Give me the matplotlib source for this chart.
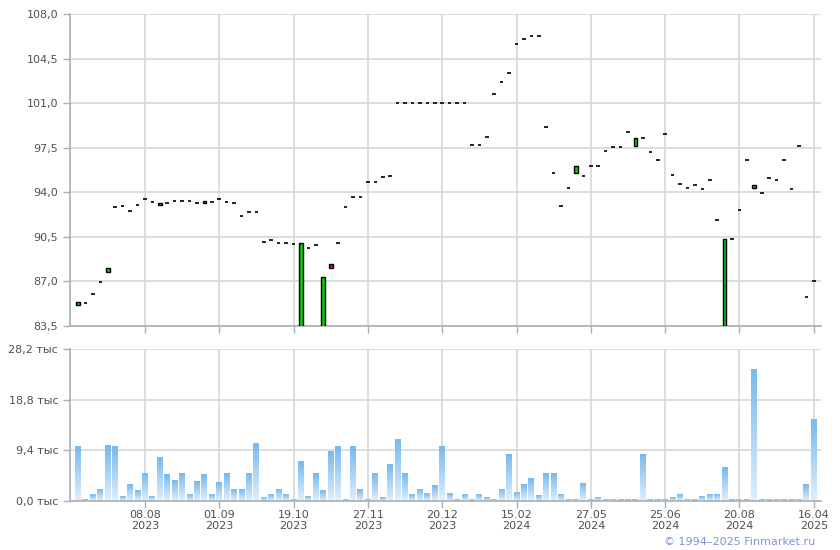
import matplotlib
matplotlib.use("Agg")
import matplotlib.pyplot as plt
import numpy as np

# daily open / close prices (open below 83.5 -> bar runs off the bottom)
opens = [
    85.17, 85.27, 86.05, 86.99, 87.77, 92.83, 92.91, 92.52, 92.99, 93.45,
    93.22, 92.99, 93.14, 93.30, 93.30, 93.30, 93.14, 93.12, 93.22, 93.45,
    93.22, 93.14, 92.13, 92.44, 92.44, 90.10, 90.26, 90.03, 90.03, 89.95,
    80.00, 89.64, 89.87, 80.00, 88.39, 90.03, 92.83, 93.61, 93.61, 94.78,
    94.78, 95.17, 95.25, 101.0, 101.0, 101.0, 101.0, 101.0, 101.0, 101.0,
    101.0, 101.0, 101.0, 97.70, 97.70, 98.33, 101.71, 102.65, 103.36, 105.63,
    106.03, 106.26, 106.26, 99.12, 95.50, 92.91, 94.32, 95.48, 95.27, 96.05,
    96.05, 97.23, 97.54, 97.54, 98.72, 97.66, 98.28, 97.19, 96.56, 98.60,
    95.39, 94.68, 94.37, 94.60, 94.29, 95.00, 91.86, 80.00, 90.37, 92.64,
    96.56, 94.34, 93.98, 95.15, 95.00, 96.56, 94.29, 97.66, 85.75, 87.00,
]
closes = [
    85.38, 85.27, 86.05, 86.99, 88.08, 92.83, 92.91, 92.52, 92.99, 93.45,
    93.22, 93.14, 93.14, 93.30, 93.30, 93.30, 93.14, 93.30, 93.22, 93.45,
    93.22, 93.14, 92.13, 92.44, 92.44, 90.10, 90.26, 90.03, 90.03, 89.95,
    90.03, 89.64, 89.87, 87.38, 88.08, 90.03, 92.83, 93.61, 93.61, 94.78,
    94.78, 95.17, 95.25, 101.0, 101.0, 101.0, 101.0, 101.0, 101.0, 101.0,
    101.0, 101.0, 101.0, 97.70, 97.70, 98.33, 101.71, 102.65, 103.36, 105.63,
    106.03, 106.26, 106.26, 99.12, 95.50, 92.91, 94.32, 96.05, 95.27, 96.05,
    96.05, 97.23, 97.54, 97.54, 98.72, 98.28, 98.28, 97.19, 96.56, 98.60,
    95.39, 94.68, 94.37, 94.60, 94.29, 95.00, 91.86, 90.37, 90.37, 92.64,
    96.56, 94.60, 93.98, 95.15, 95.00, 96.56, 94.29, 97.66, 85.75, 87.00,
]
# volume, thousands
volumes = [
    10.08, 0.37, 1.12, 2.05, 10.27, 10.08, 0.75, 2.99, 1.87, 5.04,
    0.75, 8.03, 4.86, 3.74, 5.04, 1.12, 3.55, 4.86, 1.12, 3.36,
    5.04, 2.05, 2.05, 5.04, 10.65, 0.56, 1.12, 2.05, 1.12, 0.19,
    7.28, 0.75, 5.04, 1.87, 9.15, 10.08, 0.19, 10.08, 2.05, 0.19,
    5.04, 0.56, 6.72, 11.39, 5.04, 1.12, 2.05, 1.31, 2.80, 10.08,
    1.31, 0.37, 1.12, 0.19, 1.12, 0.56, 0.19, 2.05, 8.59, 1.49,
    2.99, 4.11, 0.93, 5.04, 5.04, 1.12, 0.19, 0.19, 3.17, 0.19,
    0.56, 0.19, 0.19, 0.19, 0.19, 0.19, 8.59, 0.19, 0.19, 0.19,
    0.56, 1.12, 0.19, 0.19, 0.75, 1.12, 1.12, 6.16, 0.19, 0.19,
    0.19, 24.46, 0.19, 0.19, 0.37, 0.19, 0.37, 0.19, 2.99, 15.13,
]
tick_idx = [9, 19, 29, 39, 49, 59, 69, 79, 89, 99]
tick_labels = [
    "08.08\n2023", "01.09\n2023", "19.10\n2023", "27.11\n2023", "20.12\n2023",
    "15.02\n2024", "27.05\n2024", "25.06\n2024", "20.08\n2024", "16.04\n2025",
]
price_ticks = [83.5, 87.0, 90.5, 94.0, 97.5, 101.0, 104.5, 108.0]
vol_ticks = [0.0, 9.4, 18.8, 28.2]

GRID = "#d3d8dc"
AXIS = "#a8afb6"
TEXT = "#505050"

fig = plt.figure(figsize=(8.4, 5.5), dpi=100)
ax1 = fig.add_axes([70 / 840, 1 - 326 / 550, 751 / 840, 312 / 550])
ax2 = fig.add_axes([70 / 840, 1 - 501 / 550, 751 / 840, 152 / 550])

x = np.arange(len(opens))
xlim = (-1.08, 99.97)

for ax in (ax1, ax2):
    ax.set_xlim(*xlim)
    ax.set_xticks(tick_idx)
    for s in ("top", "right"):
        ax.spines[s].set_visible(False)
    for s in ("left", "bottom"):
        ax.spines[s].set_color(AXIS)
        ax.spines[s].set_linewidth(1.2)
    ax.grid(color=GRID, linewidth=1.2)
    ax.set_axisbelow(True)
    ax.tick_params(colors=AXIS, labelcolor=TEXT, labelsize=8, length=5, width=1)

# candles
o = np.array(opens)
c = np.array(closes)
flat = o == c
ax1.hlines(c[flat], x[flat] - 0.24, x[flat] + 0.24, color="black", linewidth=1.2, zorder=3)
up = c > o
dn = c < o
ax1.bar(x[up], c[up] - o[up], bottom=o[up], width=0.5, color="#12c812",
        edgecolor="black", linewidth=1, zorder=3)
ax1.bar(x[dn], c[dn] - o[dn], bottom=o[dn], width=0.5, color="#dd1010",
        edgecolor="black", linewidth=1, zorder=3)
ax1.set_ylim(83.5, 108.0)
ax1.set_yticks(price_ticks)
ax1.set_yticklabels([f"{v:.1f}".replace(".", ",") for v in price_ticks])
ax1.set_xticklabels([])

# volume bars with vertical gradient
grad = np.linspace(1, 0, 64).reshape(-1, 1)
cmap = matplotlib.colors.LinearSegmentedColormap.from_list("vol", ["#e0effb", "#78b9ee"])
w = 0.8
for xi, v in zip(x, volumes):
    ax2.imshow(grad, extent=(xi - w / 2, xi + w / 2, 0, v), aspect="auto",
               cmap=cmap, vmin=0, vmax=1, zorder=2, interpolation="bilinear")
ax2.set_xlim(*xlim)
ax2.set_ylim(0, 28.2)
ax2.set_yticks(vol_ticks)
ax2.set_yticklabels([f"{v:.1f} тыс".replace(".", ",") for v in vol_ticks])
ax2.set_xticklabels(tick_labels, linespacing=1.15)
ax2.tick_params(axis="x", pad=1.5)

fig.text(0.970, 0.0145, "© 1994–2025 Finmarket.ru", ha="right", va="center",
         color="#7b96d6", fontsize=8)

fig.savefig("out.png", dpi=100)
plt.close(fig)
